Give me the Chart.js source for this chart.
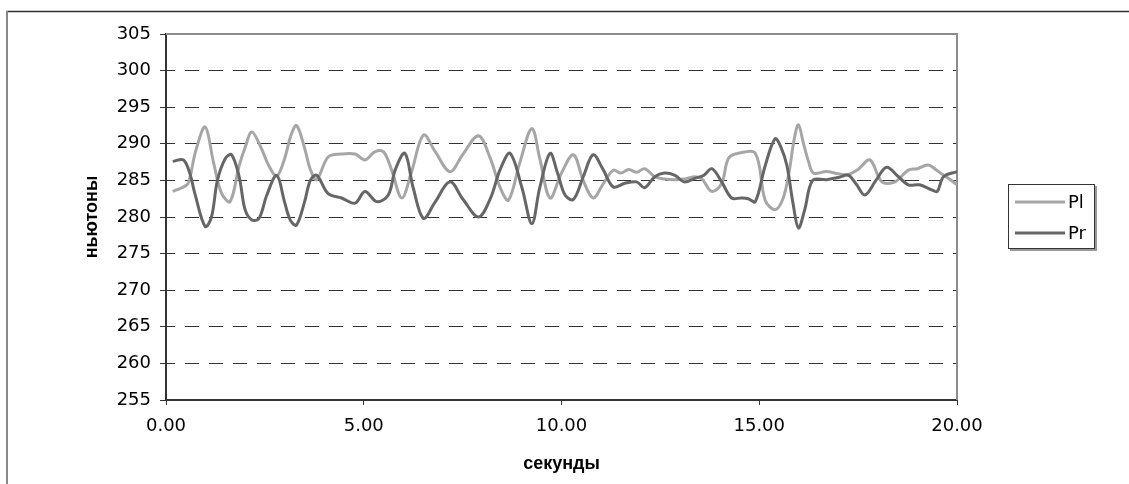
<!DOCTYPE html>
<html lang="ru">
<head>
<meta charset="UTF-8">
<title>Pl / Pr</title>
<style>
    html, body {
        margin: 0;
        padding: 0;
        background: #fff;
    }
</style>
</head>
<body>
<canvas id="forceChart" width="1129" height="484"></canvas>

<script src="https://cdn.jsdelivr.net/npm/chart.js"></script>
<script>
// time (s) and force (N)
const plTime = [
    0.17, 0.40, 0.56, 0.75, 0.99, 1.20, 1.40, 1.62, 1.85, 2.00,
    2.17, 2.40, 2.60, 2.80, 3.00, 3.15, 3.30, 3.50, 3.65, 3.81,
    4.10, 4.44, 4.78, 5.03, 5.28, 5.50, 5.70, 5.96, 6.20, 6.51,
    6.80, 7.18, 7.50, 7.90, 8.20, 8.45, 8.66, 8.95, 9.25, 9.45,
    9.71, 10.00, 10.30, 10.55, 10.80, 11.05, 11.31, 11.50, 11.70, 11.90,
    12.10, 12.36, 12.60, 12.87, 13.10, 13.38, 13.55, 13.80, 14.05, 14.22,
    14.47, 14.90, 15.15, 15.40, 15.60, 15.75, 15.88, 15.99, 16.12, 16.25,
    16.37, 16.70, 17.00, 17.25, 17.50, 17.80, 18.10, 18.43, 18.77, 19.00,
    19.27, 19.53, 19.78, 20.00
];
const plValues = [
    283.5, 284.0, 284.6, 289.0, 292.3, 287.5, 283.3, 282.1, 287.0, 289.5,
    291.6, 289.5, 287.0, 285.6, 288.0, 291.0, 292.5, 289.5, 286.5, 285.1,
    288.2, 288.6, 288.6, 287.8, 288.9, 288.9, 286.5, 282.6, 286.0, 291.2,
    289.0, 286.2, 288.5, 291.1, 288.0, 284.0, 282.3, 287.5, 292.1, 288.0,
    282.6, 286.0, 288.5, 285.0, 282.6, 284.5, 286.4, 286.0, 286.5, 286.1,
    286.6, 285.5, 285.2, 285.1, 285.2, 285.5, 285.2, 283.5, 284.6, 288.0,
    288.7, 288.7, 282.3, 281.0, 282.5, 286.0, 290.5, 292.6, 290.0, 287.5,
    286.0, 286.2, 285.9, 285.8, 286.5, 287.8, 284.8, 284.8, 286.4, 286.6,
    287.1, 286.2, 285.3, 284.4
];

const prTime = [
    0.17, 0.44, 0.60, 0.73, 0.99, 1.15, 1.30, 1.50, 1.66, 1.85,
    2.00, 2.17, 2.35, 2.55, 2.80, 3.00, 3.15, 3.30, 3.50, 3.65,
    3.81, 4.10, 4.44, 4.78, 5.03, 5.33, 5.62, 5.80, 6.04, 6.25,
    6.51, 6.80, 7.18, 7.50, 7.90, 8.20, 8.45, 8.70, 9.00, 9.25,
    9.45, 9.71, 9.90, 10.09, 10.30, 10.55, 10.80, 11.05, 11.31, 11.60,
    11.90, 12.10, 12.36, 12.60, 12.87, 13.10, 13.38, 13.60, 13.80, 14.05,
    14.30, 14.55, 14.72, 14.90, 15.15, 15.40, 15.55, 15.70, 15.85, 15.99,
    16.15, 16.35, 16.70, 17.00, 17.25, 17.45, 17.67, 17.95, 18.22, 18.50,
    18.77, 19.05, 19.36, 19.50, 19.66, 20.00
];
const prValues = [
    287.6, 287.8, 286.0, 283.2, 278.7, 280.0, 285.0, 288.0, 288.5, 285.5,
    281.0, 279.6, 279.8, 283.0, 285.7, 282.0, 279.5, 278.9, 282.0, 285.0,
    285.7, 283.2, 282.6, 281.9, 283.5, 282.1, 283.0, 286.5, 288.7, 284.0,
    279.8, 282.0, 284.8, 282.5, 280.0, 282.5, 286.5, 288.7, 284.0, 279.1,
    284.0, 288.7, 286.0, 283.0, 282.4, 285.5, 288.5, 286.5, 284.1, 284.6,
    284.8, 284.0, 285.5, 286.0, 285.7, 284.8, 285.3, 285.7, 286.6, 284.8,
    282.6, 282.6, 282.5, 282.1, 287.0, 290.7, 289.5, 287.0, 282.0, 278.5,
    281.0, 285.0, 285.1, 285.4, 285.7, 284.5, 283.0, 285.0, 286.8, 285.6,
    284.4, 284.4, 283.7, 283.5, 285.5, 286.2
];

const xTicks = [0, 5, 10, 15, 20];
const yTicks = [255, 260, 265, 270, 275, 280, 285, 290, 295, 300, 305];

const tickFont = { family: 'DejaVu Sans', size: 18 };
const titleFont = { family: 'Liberation Sans', size: 18, weight: 'bold' };

function toPoints(times, values) {
    return times.map((t, i) => ({ x: t, y: values[i] }));
}

// outer frame, plot border and the boxed legend on the right
const framePlugin = {
    id: 'frame',
    beforeDraw(chart) {
        const ctx = chart.ctx;
        ctx.save();
        ctx.fillStyle = '#fff';
        ctx.fillRect(0, 0, chart.width, chart.height);
        ctx.strokeStyle = '#333';
        ctx.lineWidth = 1.5;
        ctx.beginPath();
        ctx.moveTo(6, 11.5);
        ctx.lineTo(chart.width, 11.5);
        ctx.stroke();
        ctx.strokeStyle = '#888';
        ctx.lineWidth = 2;
        ctx.beginPath();
        ctx.moveTo(7, 11);
        ctx.lineTo(7, chart.height);
        ctx.stroke();
        ctx.restore();
    },
    beforeDatasetsDraw(chart) {
        const { ctx, chartArea: a } = chart;
        ctx.save();
        ctx.strokeStyle = '#8c8c8c';
        ctx.lineWidth = 2;
        ctx.beginPath();
        ctx.moveTo(a.left, a.top);
        ctx.lineTo(a.right, a.top);
        ctx.lineTo(a.right, a.bottom);
        ctx.stroke();
        ctx.restore();
    },
    afterDraw(chart) {
        const ctx = chart.ctx;
        ctx.save();
        // shadow then box
        ctx.fillStyle = '#9a9a9a';
        ctx.fillRect(1010, 186, 87, 65);
        ctx.fillStyle = '#fff';
        ctx.fillRect(1008, 184, 87, 65);
        ctx.strokeStyle = '#333';
        ctx.lineWidth = 1;
        ctx.strokeRect(1008.5, 184.5, 86, 64);
        ctx.font = '18px "DejaVu Sans"';
        ctx.textBaseline = 'middle';
        chart.data.datasets.forEach((ds, i) => {
            const yy = 202 + i * 31;
            ctx.strokeStyle = ds.borderColor;
            ctx.lineWidth = 3;
            ctx.beginPath();
            ctx.moveTo(1015, yy);
            ctx.lineTo(1065, yy);
            ctx.stroke();
            ctx.fillStyle = '#000';
            ctx.fillText(ds.label, 1068, yy + 1);
        });
        ctx.restore();
    }
};

new Chart(document.getElementById('forceChart'), {
    type: 'line',
    data: {
        datasets: [{
            label: 'Pl',
            data: toPoints(plTime, plValues),
            borderColor: '#a6a6a6',
            borderWidth: 3,
            pointRadius: 0,
            tension: 0.35,
            order: 1
        }, {
            label: 'Pr',
            data: toPoints(prTime, prValues),
            borderColor: '#666666',
            borderWidth: 3,
            pointRadius: 0,
            tension: 0.35,
            order: 0
        }]
    },
    options: {
        responsive: false,
        animation: false,
        layout: { padding: { top: 34, right: 172, bottom: 0, left: 0 } },
        plugins: {
            legend: { display: false },
            tooltip: { enabled: false }
        },
        scales: {
            x: {
                type: 'linear',
                min: 0,
                max: 20,
                afterBuildTicks: s => { s.ticks = xTicks.map(v => ({ value: v })); },
                afterFit: s => { s.height = 84; },
                ticks: {
                    font: tickFont,
                    color: '#000',
                    padding: 11,
                    maxRotation: 0,
                    callback: v => v.toFixed(2)
                },
                grid: { drawOnChartArea: false, color: '#333', tickLength: 5 },
                border: { color: '#333', width: 2 },
                title: {
                    display: true,
                    text: 'секунды',
                    font: titleFont,
                    color: '#000',
                    padding: { top: 0, bottom: 9 }
                }
            },
            y: {
                min: 255,
                max: 305,
                afterBuildTicks: s => { s.ticks = yTicks.map(v => ({ value: v })); },
                afterFit: s => { s.width = 166; },
                ticks: { font: tickFont, color: '#000', padding: 9 },
                grid: {
                    color: c => (c.tick && (c.tick.value === 255 || c.tick.value === 305)) ? 'rgba(0,0,0,0)' : '#333',
                    tickColor: '#333',
                    tickLength: 6,
                    lineWidth: 1
                },
                border: { color: '#333', width: 2, dash: [14, 10], dashOffset: 6 },
                title: {
                    display: true,
                    text: 'ньютоны',
                    font: titleFont,
                    color: '#000',
                    padding: { top: 81, bottom: 0 }
                }
            }
        }
    },
    plugins: [framePlugin]
});
</script>
</body>
</html>
